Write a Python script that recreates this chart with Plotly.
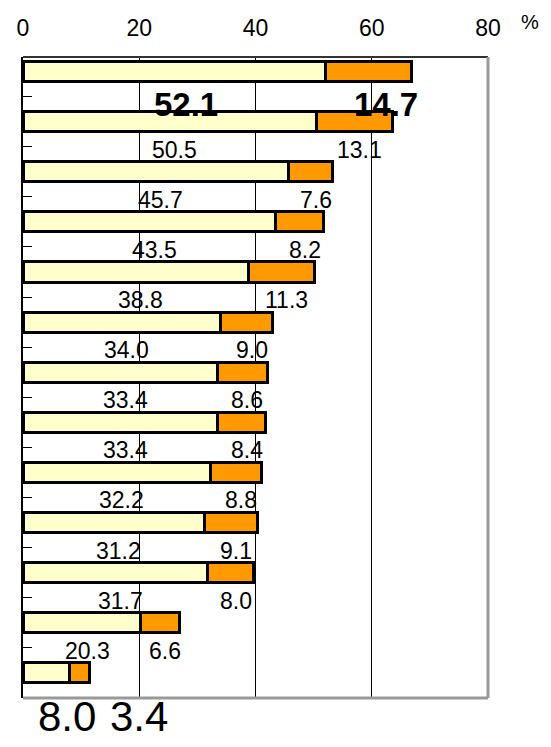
import plotly.graph_objects as go

# Werte je Balken (oben nach unten)
wert_hell = [52.1, 50.5, 45.7, 43.5, 38.8, 34.0, 33.4, 33.4, 32.2, 31.2, 31.7, 20.3, 8.0]
wert_orange = [14.7, 13.1, 7.6, 8.2, 11.3, 9.0, 8.6, 8.4, 8.8, 9.1, 8.0, 6.6, 3.4]
x_ticks = [0, 20, 40, 60, 80]

pos = list(range(len(wert_hell)))
FONT = "Liberation Sans, Arial, sans-serif"

fig = go.Figure()
fig.add_trace(go.Bar(
    y=pos, x=wert_hell, orientation="h", width=0.4,
    marker=dict(color="#FFFFCC", line=dict(color="black", width=3)),
    showlegend=False, hoverinfo="x"))
fig.add_trace(go.Bar(
    y=pos, x=wert_orange, orientation="h", width=0.4,
    marker=dict(color="#FF9900", line=dict(color="black", width=3)),
    showlegend=False, hoverinfo="x"))

annotations = []
letzter = len(pos) - 1
for i, (a, b) in enumerate(zip(wert_hell, wert_orange)):
    if i == 0:
        size, ys, xs1, xs2, bold = 33, -33, 12, 17, True
    elif i == letzter:
        size, ys, xs1, xs2, bold = 42, -44, 21, 60, False
    else:
        size, ys, xs1, xs2, bold = 23, -28, 5, 5, False
    for x, txt, xs in ((a / 2, f"{a:.1f}", xs1), (a + b / 2, f"{b:.1f}", xs2)):
        annotations.append(dict(
            x=x, y=i, xref="x", yref="y", text=f"<b>{txt}</b>" if bold else txt,
            showarrow=False, xshift=xs, yshift=ys,
            font=dict(size=size, color="black", family=FONT)))

annotations.append(dict(text="%", xref="paper", yref="paper", x=1.09, y=1.055,
                        xanchor="center", yanchor="middle", showarrow=False,
                        font=dict(size=20, color="black", family=FONT)))
# Klammern am unteren Rand, nur angeschnitten sichtbar
for xp, t in ((0.054, "("), (0.269, ")")):
    annotations.append(dict(text=t, xref="paper", yref="paper", x=xp, y=-0.092,
                            xanchor="center", yanchor="top", showarrow=False,
                            font=dict(size=20, color="black", family=FONT)))

# die Seite hat 8px Rand, daher l/t kleiner
fig.update_layout(
    width=551, height=747, barmode="stack",
    margin=dict(l=15, r=71, t=49, b=57),
    plot_bgcolor="white", paper_bgcolor="white",
    font=dict(family=FONT, color="black", size=22),
    annotations=annotations,
    xaxis=dict(side="top", range=[0, 80], tickvals=x_ticks, automargin=False,
               showgrid=True, gridcolor="black", gridwidth=1,
               zeroline=False, ticks="", tickfont=dict(size=23),
               ticklabelstandoff=15),
    yaxis=dict(range=[12.5, -0.29], tickvals=[p + 0.5 for p in pos], automargin=False,
               showticklabels=False, ticks="inside", ticklen=9,
               tickcolor="black", tickwidth=1, showgrid=False, zeroline=False,
               showline=True, linecolor="black", linewidth=2),
    shapes=[
        dict(type="line", xref="paper", yref="paper", x0=0, x1=1, y0=1, y1=1,
             line=dict(color="#333333", width=2), layer="above"),
        dict(type="line", xref="paper", yref="paper", x0=1, x1=1, y0=0, y1=1,
             line=dict(color="#999999", width=3), layer="above"),
        dict(type="line", xref="paper", yref="paper", x0=0, x1=1, y0=0, y1=0,
             line=dict(color="#999999", width=3), layer="above"),
    ],
)

fig.write_html("out.html")
